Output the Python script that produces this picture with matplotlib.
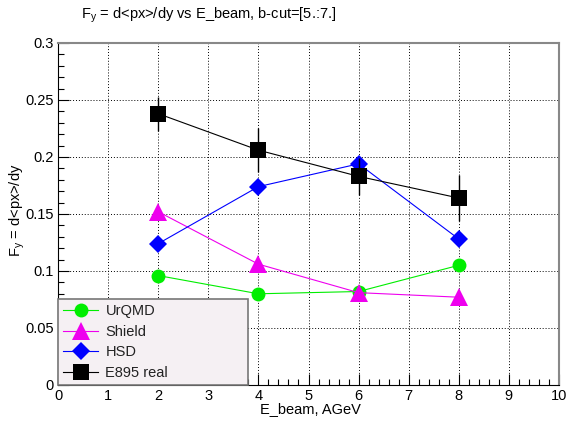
import matplotlib.pyplot as plt
from matplotlib.ticker import MultipleLocator

# ----------- DATA -------------
energy = [2, 4, 6, 8]
urqmd = [0.096, 0.080, 0.082, 0.105]
shield = [0.152, 0.106, 0.081, 0.077]
hsd = [0.124, 0.174, 0.194, 0.128]
e895 = [0.238, 0.206, 0.183, 0.164]
e895_err = [0.015, 0.019, 0.016, 0.020]
# ------------------------------

plt.rcParams['font.family'] = ['Liberation Sans', 'DejaVu Sans']

fig = plt.figure(figsize=(5.79, 4.24), dpi=100)
ax = fig.add_axes([0.1002, 0.092, 0.8653, 0.8066])

ax.plot(energy, urqmd, color='#00ee00', lw=0.8, marker='o', ms=10,
        markeredgewidth=0, label='UrQMD', zorder=3)
ax.plot(energy, shield, color='#ee00ee', lw=0.8, marker='^', ms=13,
        markeredgewidth=0, label='Shield', zorder=3)
ax.plot(energy, hsd, color='#0000ff', lw=0.8, marker='D', ms=9,
        markeredgewidth=0, label='HSD', zorder=3)
ax.errorbar(energy, e895, yerr=e895_err, color='black', lw=0.8, marker='s',
            ms=11, markeredgewidth=0, capsize=2.5, elinewidth=1,
            label='E895 real', zorder=4)

ax.set_xlim(0, 10)
ax.set_ylim(0, 0.3)
ax.xaxis.set_major_locator(MultipleLocator(1))
ax.xaxis.set_minor_locator(MultipleLocator(0.2))
ax.yaxis.set_major_locator(MultipleLocator(0.05))
ax.yaxis.set_minor_locator(MultipleLocator(0.01))
ax.set_yticks([0, 0.05, 0.1, 0.15, 0.2, 0.25, 0.3])
ax.set_yticklabels(['0', '0.05', '0.1', '0.15', '0.2', '0.25', '0.3'])
ax.tick_params(which='both', direction='in', top=False, right=False,
               labelsize=10.5, pad=3)
ax.tick_params(which='major', length=8, width=0.8)
ax.tick_params(which='minor', length=4, width=0.8)
ax.grid(True, which='major', linestyle=(0, (1, 2)), color='black', lw=0.7)

for side in ['left', 'bottom']:
    ax.spines[side].set_color('black')
for side in ['top', 'right']:
    ax.spines[side].set_color('#888888')
    ax.spines[side].set_linewidth(1.5)

leg = ax.legend(loc='lower left', bbox_to_anchor=(0, 0, 0.38, 0.25),
                mode='expand', fontsize=10.5,
                frameon=True, fancybox=False, borderaxespad=0,
                handlelength=2.4, labelspacing=0.45, borderpad=0.35,
                handletextpad=0.5)
leg.get_frame().set_facecolor('#f5f0f3')
leg.get_frame().set_edgecolor('#777777')
leg.get_frame().set_linewidth(1.2)
leg.get_frame().set_alpha(1)
leg.set_zorder(10)
for t in leg.get_texts():
    t.set_color('#222222')

fig.text(0.361, 0.965, r'F$_\mathregular{y}$ = d<px>/dy vs E_beam, b-cut=[5.:7.]',
         ha='center', va='center', fontsize=10.5)
fig.text(0.030, 0.505, r'F$_\mathregular{y}$ = d<px>/dy', rotation=90,
         ha='center', va='center', fontsize=10.5)
fig.text(0.537, 0.035, 'E_beam, AGeV', ha='center', va='center', fontsize=10.5)

fig.savefig('out.png', dpi=100)
